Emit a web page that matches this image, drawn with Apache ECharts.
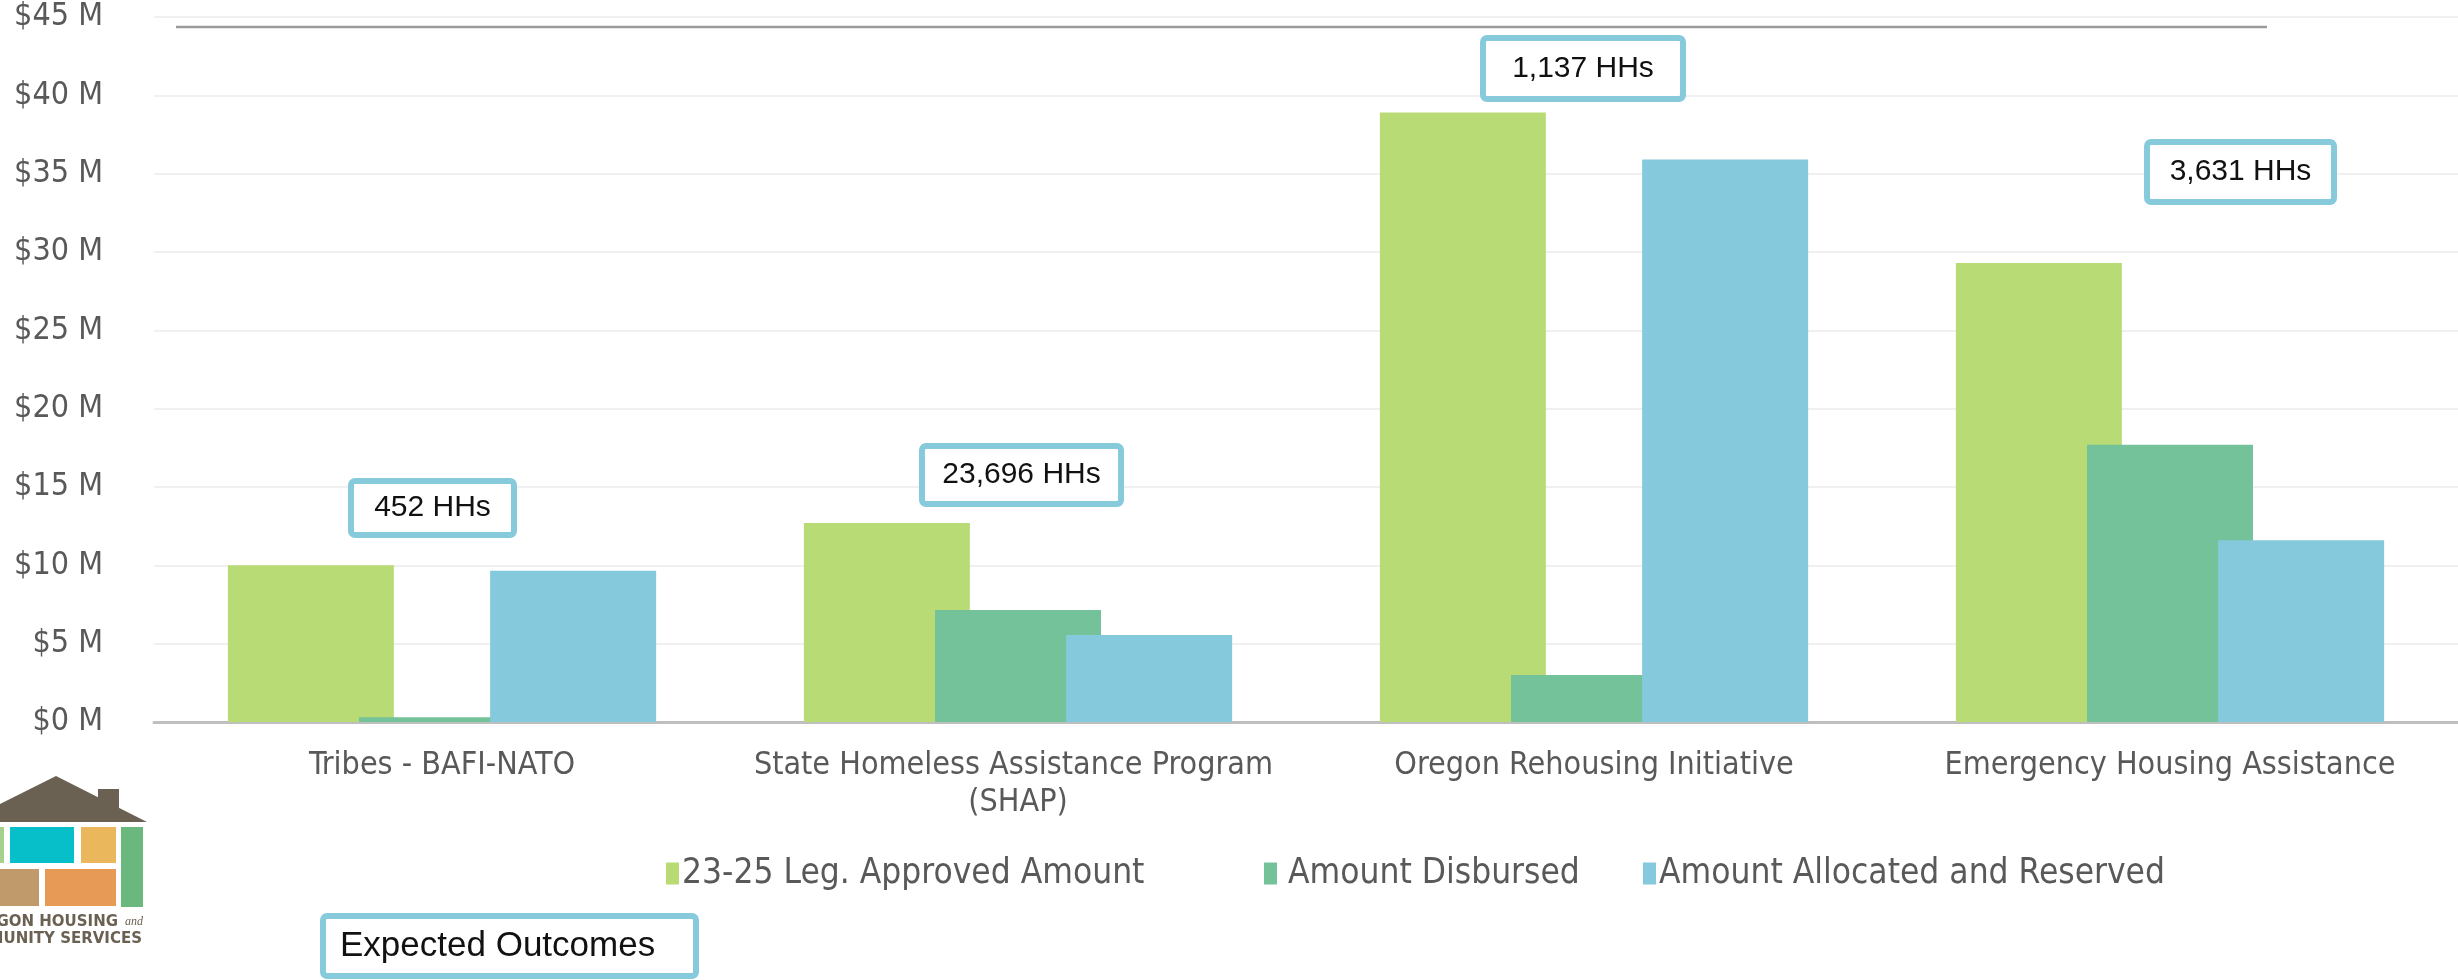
<!DOCTYPE html>
<html>
<head>
<meta charset="utf-8">
<title>Program funding</title>
<script src="https://cdn.jsdelivr.net/npm/echarts@6/dist/echarts.min.js"></script>
<style>
  html, body { margin: 0; padding: 0; background: #fff; }
  #chart { width: 2458px; height: 980px; }
</style>
</head>
<body>
<div id="chart"></div>
<script>
// program categories
const categories = [
  "Tribes - BAFI-NATO",
  "State Homeless Assistance Program (SHAP)",
  "Oregon Rehousing Initiative",
  "Emergency Housing Assistance"
];

// values in $ millions
const approved = [10.0, 12.7, 38.9, 29.3];
const disbursed = [0.3, 7.15, 3.0, 17.7];
const allocated = [9.65, 5.55, 35.9, 11.6];

const seriesNames = ["23-25 Leg. Approved Amount", "Amount Disbursed", "Amount Allocated and Reserved"];
const outcomeLabels = ["452 HHs", "23,696 HHs", "1,137 HHs", "3,631 HHs"];

const colors = ["#b9db75", "#74c29a", "#85c9dc"];
const labelFont = "'Liberation Sans Narrow', 'DejaVu Sans Condensed', sans-serif";
const boxFont = "'Liberation Sans', Arial, sans-serif";

// outer edges of the annotation boxes [x, y, w, h]
const boxLayout = [
  [348, 478, 169, 60],
  [919, 443, 205, 64],
  [1480, 35, 206, 67],
  [2144, 139, 193, 66]
];
// legend entries are laid out like the slide (uneven spacing)
const legendLeft = [666, 1264, 1643];

function makeBox(text, b, align, size) {
  const lw = 6;
  return {
    type: "group",
    z: 100,
    children: [
      {
        type: "rect",
        z: 100,
        shape: { x: b[0] + lw / 2, y: b[1] + lw / 2, width: b[2] - lw, height: b[3] - lw, r: 4 },
        style: { fill: "#fff", stroke: "#86cadb", lineWidth: lw }
      },
      {
        type: "text",
        z: 101,
        x: align === "left" ? b[0] + 20 : b[0] + b[2] / 2,
        y: b[1] + b[3] / 2,
        style: {
          text: text,
          fill: "#111",
          font: (size || 30) + "px " + boxFont,
          textAlign: align || "center",
          textVerticalAlign: "middle"
        }
      }
    ]
  };
}

const chart = echarts.init(document.getElementById("chart"));

const logoText = "bold 15px 'DejaVu Sans', sans-serif";
const graphics = [
  // title underline (title itself is cut off above the frame)
  { type: "line", shape: { x1: 176, y1: 27, x2: 2267, y2: 27 }, style: { stroke: "#9a9a9a", lineWidth: 2.5 } },
  // agency logo, bottom left
  { type: "polygon", shape: { points: [[0, 804], [56, 776], [147, 822], [0, 822]] }, style: { fill: "#6b6152" } },
  { type: "rect", shape: { x: 98, y: 789, width: 21, height: 24 }, style: { fill: "#6b6152" } },
  { type: "rect", shape: { x: 0, y: 827, width: 4, height: 36 }, style: { fill: "#a8d08d" } },
  { type: "rect", shape: { x: 10, y: 827, width: 64, height: 36 }, style: { fill: "#07bfc8" } },
  { type: "rect", shape: { x: 81, y: 827, width: 35, height: 36 }, style: { fill: "#ebb75c" } },
  { type: "rect", shape: { x: 121, y: 827, width: 22, height: 80 }, style: { fill: "#6ab87e" } },
  { type: "rect", shape: { x: 0, y: 869, width: 39, height: 37 }, style: { fill: "#c19a6b" } },
  { type: "rect", shape: { x: 45, y: 869, width: 71, height: 37 }, style: { fill: "#e79a56" } },
  {
    type: "text", x: 118, y: 922,
    style: { text: "OREGON HOUSING", fill: "#6b6152", font: logoText, textAlign: "right", textVerticalAlign: "middle" }
  },
  {
    type: "text", x: 143, y: 922,
    style: { text: "and", fill: "#6b6152", font: "italic 12px 'Liberation Serif', serif", textAlign: "right", textVerticalAlign: "middle" }
  },
  {
    type: "text", x: 142, y: 939,
    style: { text: "COMMUNITY SERVICES", fill: "#6b6152", font: logoText, textAlign: "right", textVerticalAlign: "middle" }
  }
];

outcomeLabels.forEach((t, i) => graphics.push(makeBox(t, boxLayout[i])));
graphics.push(makeBox("Expected Outcomes", [320, 913, 379, 66], "left", 35));

const seriesData = [approved, disbursed, allocated];

chart.setOption({
  animation: false,
  color: colors,
  grid: { left: 154, right: -4, top: 17, bottom: 258, containLabel: false },
  legend: seriesNames.map((name, i) => ({
    data: [name],
    left: legendLeft[i],
    top: 856,
    padding: 0,
    icon: "rect",
    itemWidth: 13,
    itemHeight: 22,
    textStyle: {
      color: "#595959",
      fontSize: 35,
      fontFamily: labelFont,
      padding: [0, 0, 0, i === 1 ? 6 : -2]
    }
  })),
  xAxis: {
    type: "category",
    data: categories,
    axisTick: { show: false },
    axisLine: { lineStyle: { color: "#bfbfbf", width: 3 } },
    axisLabel: {
      color: "#595959",
      fontSize: 32,
      fontFamily: labelFont,
      margin: 25,
      lineHeight: 37,
      width: 545,
      overflow: "break",
      interval: 0
    }
  },
  yAxis: {
    type: "value",
    min: 0,
    max: 45,
    interval: 5,
    axisLine: { show: false },
    axisTick: { show: false },
    splitLine: { lineStyle: { color: "#f0f0f0", width: 2 } },
    axisLabel: {
      color: "#595959",
      fontSize: 32,
      fontFamily: labelFont,
      margin: 51,
      formatter: (v) => "$" + v + " M"
    }
  },
  series: seriesNames.map((name, i) => ({
    name,
    type: "bar",
    barWidth: 166,
    barGap: "-21%",
    data: seriesData[i]
  })),
  graphic: graphics
});
</script>
</body>
</html>
